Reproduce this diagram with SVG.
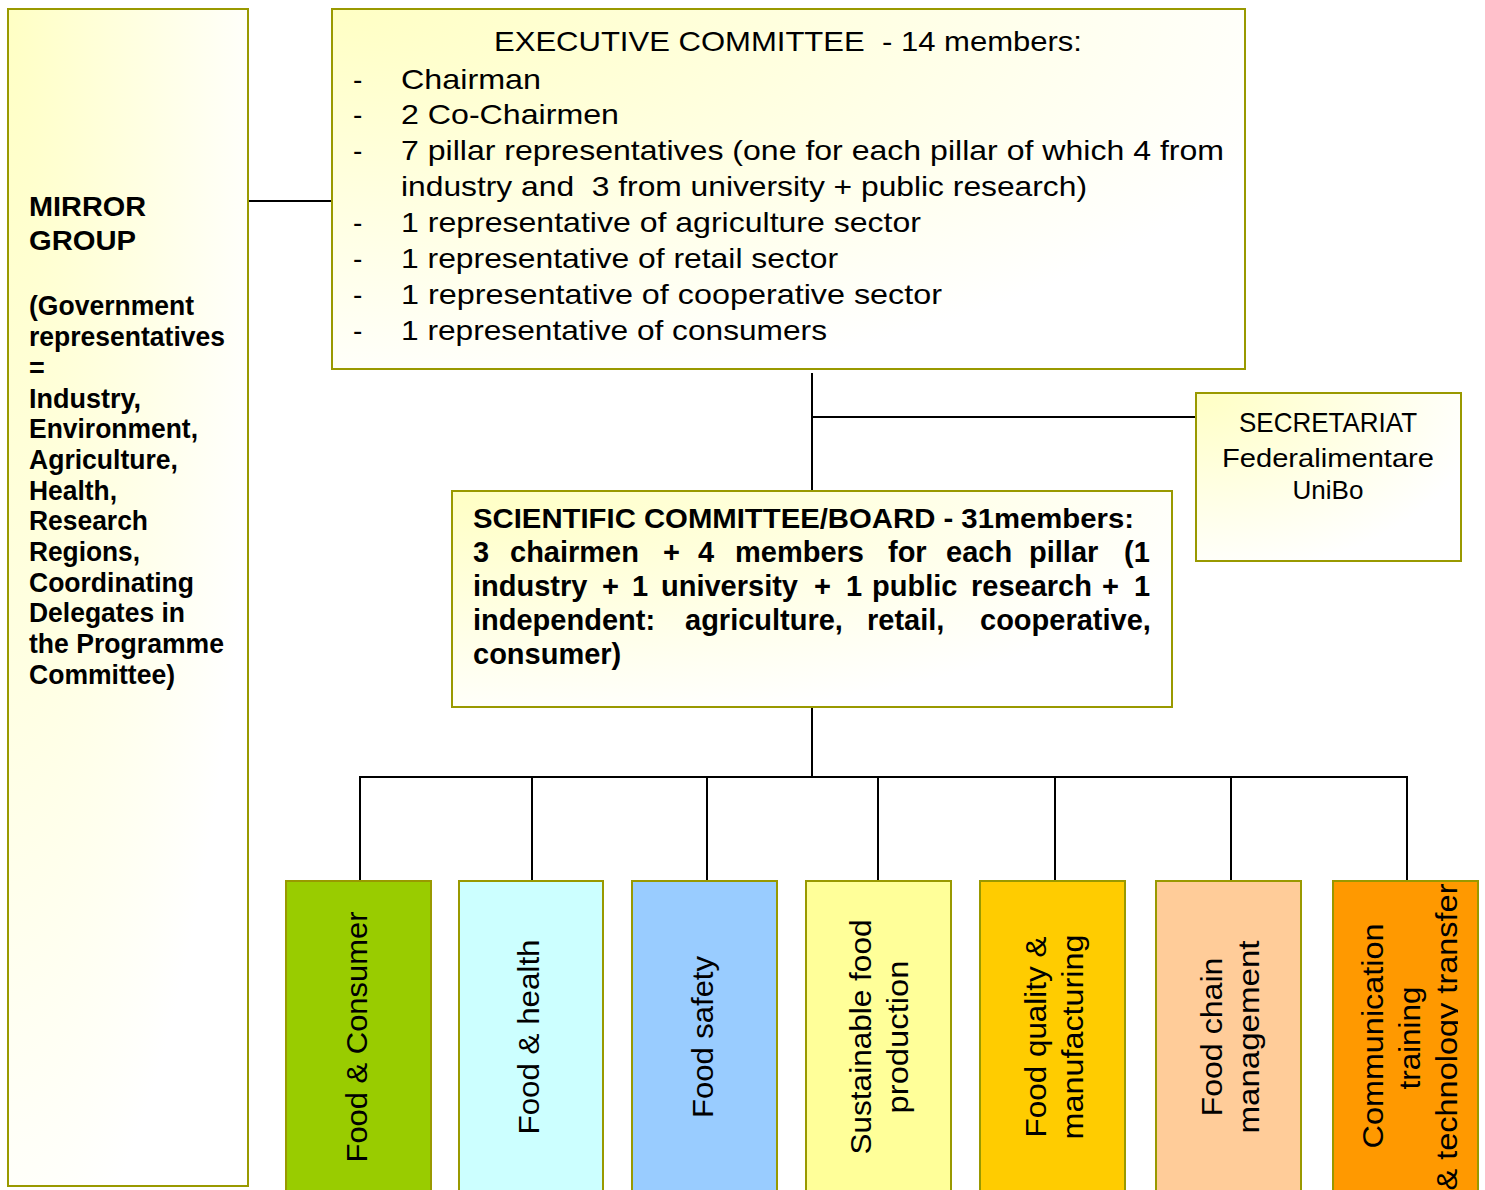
<svg xmlns="http://www.w3.org/2000/svg" width="1485" height="1190" viewBox="0 0 1485 1190">
<defs>
<radialGradient id="corner" cx="0" cy="0" r="1.1" fx="0" fy="0" gradientUnits="objectBoundingBox">
<stop offset="0" stop-color="#FFFFC4"/>
<stop offset="1" stop-color="#FFFFFF"/>
</radialGradient>
<clipPath id="clip7"><rect x="1333" y="881" width="125" height="320"/></clipPath>
</defs>
<style>
.box{stroke:#999900;stroke-width:2}
.grad{fill:url(#corner)}
.t{font-family:"Liberation Sans",Arial,sans-serif;fill:#000}
.ex{font-size:28px}
.mg{font-size:27px;font-weight:bold}
.sc{font-size:28px;font-weight:bold}
.sb{font-size:29px;font-weight:bold}
.pl{font-size:30px}
.conn{stroke:#000;stroke-width:2;fill:none}
</style>
<rect width="1485" height="1190" fill="#fff"/>

<g id="connectors">
<line class="conn" x1="248" y1="201" x2="332" y2="201"/>
<line class="conn" x1="812" y1="373" x2="812" y2="491"/>
<line class="conn" x1="812" y1="417" x2="1196" y2="417"/>
<line class="conn" x1="812" y1="707" x2="812" y2="778"/>
<line class="conn" x1="359" y1="777" x2="1408" y2="777"/>
<line class="conn" x1="360" y1="777" x2="360" y2="881"/>
<line class="conn" x1="532" y1="777" x2="532" y2="881"/>
<line class="conn" x1="707" y1="777" x2="707" y2="881"/>
<line class="conn" x1="878" y1="777" x2="878" y2="881"/>
<line class="conn" x1="1055" y1="777" x2="1055" y2="881"/>
<line class="conn" x1="1231" y1="777" x2="1231" y2="881"/>
<line class="conn" x1="1407" y1="777" x2="1407" y2="881"/>
</g>

<g id="mirror-group">
<rect class="box grad" x="8" y="9" width="240" height="1177"/>
<text class="t mg" x="29" y="216" textLength="117" lengthAdjust="spacingAndGlyphs">MIRROR</text>
<text class="t mg" x="29" y="250" textLength="107" lengthAdjust="spacingAndGlyphs">GROUP</text>
<text class="t mg" x="29" y="315" textLength="165" lengthAdjust="spacingAndGlyphs">(Government</text>
<text class="t mg" x="29" y="346" textLength="196" lengthAdjust="spacingAndGlyphs">representatives</text>
<text class="t mg" x="29" y="377">=</text>
<text class="t mg" x="29" y="408" textLength="112" lengthAdjust="spacingAndGlyphs">Industry,</text>
<text class="t mg" x="29" y="438" textLength="169" lengthAdjust="spacingAndGlyphs">Environment,</text>
<text class="t mg" x="29" y="469" textLength="149" lengthAdjust="spacingAndGlyphs">Agriculture,</text>
<text class="t mg" x="29" y="500" textLength="88" lengthAdjust="spacingAndGlyphs">Health,</text>
<text class="t mg" x="29" y="530" textLength="119" lengthAdjust="spacingAndGlyphs">Research</text>
<text class="t mg" x="29" y="561" textLength="111" lengthAdjust="spacingAndGlyphs">Regions,</text>
<text class="t mg" x="29" y="592" textLength="165" lengthAdjust="spacingAndGlyphs">Coordinating</text>
<text class="t mg" x="29" y="622" textLength="156" lengthAdjust="spacingAndGlyphs">Delegates in</text>
<text class="t mg" x="29" y="653" textLength="195" lengthAdjust="spacingAndGlyphs">the Programme</text>
<text class="t mg" x="29" y="684" textLength="146" lengthAdjust="spacingAndGlyphs">Committee)</text>
</g>

<g id="executive-committee">
<rect class="box grad" x="332" y="9" width="913" height="360"/>
<text class="t ex" x="494" y="51" xml:space="preserve" textLength="588" lengthAdjust="spacingAndGlyphs">EXECUTIVE COMMITTEE  - 14 members:</text>
<text class="t ex" x="353" y="89">-</text>
<text class="t ex" x="401" y="89" textLength="140" lengthAdjust="spacingAndGlyphs">Chairman</text>
<text class="t ex" x="353" y="124">-</text>
<text class="t ex" x="401" y="124" textLength="218" lengthAdjust="spacingAndGlyphs">2 Co-Chairmen</text>
<text class="t ex" x="353" y="160">-</text>
<text class="t ex" x="401" y="160" textLength="823" lengthAdjust="spacingAndGlyphs">7 pillar representatives (one for each pillar of which 4 from</text>
<text class="t ex" x="401" y="196" xml:space="preserve" textLength="686" lengthAdjust="spacingAndGlyphs">industry and  3 from university + public research)</text>
<text class="t ex" x="353" y="232">-</text>
<text class="t ex" x="401" y="232" textLength="520" lengthAdjust="spacingAndGlyphs">1 representative of agriculture sector</text>
<text class="t ex" x="353" y="268">-</text>
<text class="t ex" x="401" y="268" textLength="437" lengthAdjust="spacingAndGlyphs">1 representative of retail sector</text>
<text class="t ex" x="353" y="304">-</text>
<text class="t ex" x="401" y="304" textLength="541" lengthAdjust="spacingAndGlyphs">1 representative of cooperative sector</text>
<text class="t ex" x="353" y="340">-</text>
<text class="t ex" x="401" y="340" textLength="426" lengthAdjust="spacingAndGlyphs">1 representative of consumers</text>
</g>

<g id="secretariat">
<rect class="box grad" x="1196" y="393" width="265" height="168"/>
<text class="t ex" x="1328" y="432" text-anchor="middle" textLength="178" lengthAdjust="spacingAndGlyphs">SECRETARIAT</text>
<text class="t" x="1328" y="467" font-size="26" text-anchor="middle" textLength="212" lengthAdjust="spacingAndGlyphs">Federalimentare</text>
<text class="t" x="1328" y="499" font-size="26" text-anchor="middle" textLength="71" lengthAdjust="spacingAndGlyphs">UniBo</text>
</g>

<g id="scientific-committee">
<rect class="box grad" x="452" y="491" width="720" height="216"/>
<text class="t sc" x="473" y="528" textLength="661" lengthAdjust="spacingAndGlyphs">SCIENTIFIC COMMITTEE/BOARD - 31members:</text>
<text class="t sb" y="562"><tspan x="473">3</tspan><tspan x="510">chairmen</tspan><tspan x="663">+</tspan><tspan x="698">4</tspan><tspan x="735">members</tspan><tspan x="888">for</tspan><tspan x="946">each</tspan><tspan x="1029">pillar</tspan><tspan x="1124">(1</tspan></text>
<text class="t sb" y="596"><tspan x="473">industry</tspan><tspan x="602">+</tspan><tspan x="632">1</tspan><tspan x="661">university</tspan><tspan x="814">+</tspan><tspan x="846">1</tspan><tspan x="872">public</tspan><tspan x="971">research</tspan><tspan x="1102">+</tspan><tspan x="1134">1</tspan></text>
<text class="t sb" y="630"><tspan x="473">independent:</tspan><tspan x="685">agriculture,</tspan><tspan x="867">retail,</tspan><tspan x="980">cooperative,</tspan></text>
<text class="t sb" x="473" y="664">consumer)</text>
</g>

<g id="pillar-food-consumer">
<rect class="box" x="286" y="881" width="145" height="320" fill="#99CC00"/>
<text class="t pl" transform="translate(367,1037) rotate(-90)" text-anchor="middle" textLength="251" lengthAdjust="spacingAndGlyphs">Food &amp; Consumer</text>
</g>
<g id="pillar-food-health">
<rect class="box" x="459" y="881" width="144" height="320" fill="#CCFFFF"/>
<text class="t pl" transform="translate(539,1037) rotate(-90)" text-anchor="middle" textLength="195" lengthAdjust="spacingAndGlyphs">Food &amp; health</text>
</g>
<g id="pillar-food-safety">
<rect class="box" x="632" y="881" width="145" height="320" fill="#99CCFF"/>
<text class="t pl" transform="translate(713,1037) rotate(-90)" text-anchor="middle" textLength="162" lengthAdjust="spacingAndGlyphs">Food safety</text>
</g>
<g id="pillar-sustainable">
<rect class="box" x="806" y="881" width="145" height="320" fill="#FFFF99"/>
<text class="t pl" transform="translate(871,1037) rotate(-90)" text-anchor="middle" textLength="235" lengthAdjust="spacingAndGlyphs">Sustainable food</text>
<text class="t pl" transform="translate(908,1037) rotate(-90)" text-anchor="middle" textLength="153" lengthAdjust="spacingAndGlyphs">production</text>
</g>
<g id="pillar-quality">
<rect class="box" x="980" y="881" width="145" height="320" fill="#FFCC00"/>
<text class="t pl" transform="translate(1046,1037) rotate(-90)" text-anchor="middle" textLength="201" lengthAdjust="spacingAndGlyphs">Food quality &amp;</text>
<text class="t pl" transform="translate(1083,1037) rotate(-90)" text-anchor="middle" textLength="205" lengthAdjust="spacingAndGlyphs">manufacturing</text>
</g>
<g id="pillar-chain">
<rect class="box" x="1156" y="881" width="145" height="320" fill="#FFCC99"/>
<text class="t pl" transform="translate(1222,1037) rotate(-90)" text-anchor="middle" textLength="159" lengthAdjust="spacingAndGlyphs">Food chain</text>
<text class="t pl" transform="translate(1259,1037) rotate(-90)" text-anchor="middle" textLength="193" lengthAdjust="spacingAndGlyphs">management</text>
</g>
<g id="pillar-communication">
<rect class="box" x="1333" y="881" width="145" height="320" fill="#FF9900"/>
<text class="t pl" transform="translate(1383,1036) rotate(-90)" text-anchor="middle" textLength="225" lengthAdjust="spacingAndGlyphs">Communication</text>
<text class="t pl" transform="translate(1420,1038) rotate(-90)" text-anchor="middle" textLength="103" lengthAdjust="spacingAndGlyphs">training</text>
<g clip-path="url(#clip7)">
<text class="t pl" transform="translate(1457,1037) rotate(-90)" text-anchor="middle" textLength="307" lengthAdjust="spacingAndGlyphs">&amp; technology transfer</text>
</g>
</g>
</svg>
